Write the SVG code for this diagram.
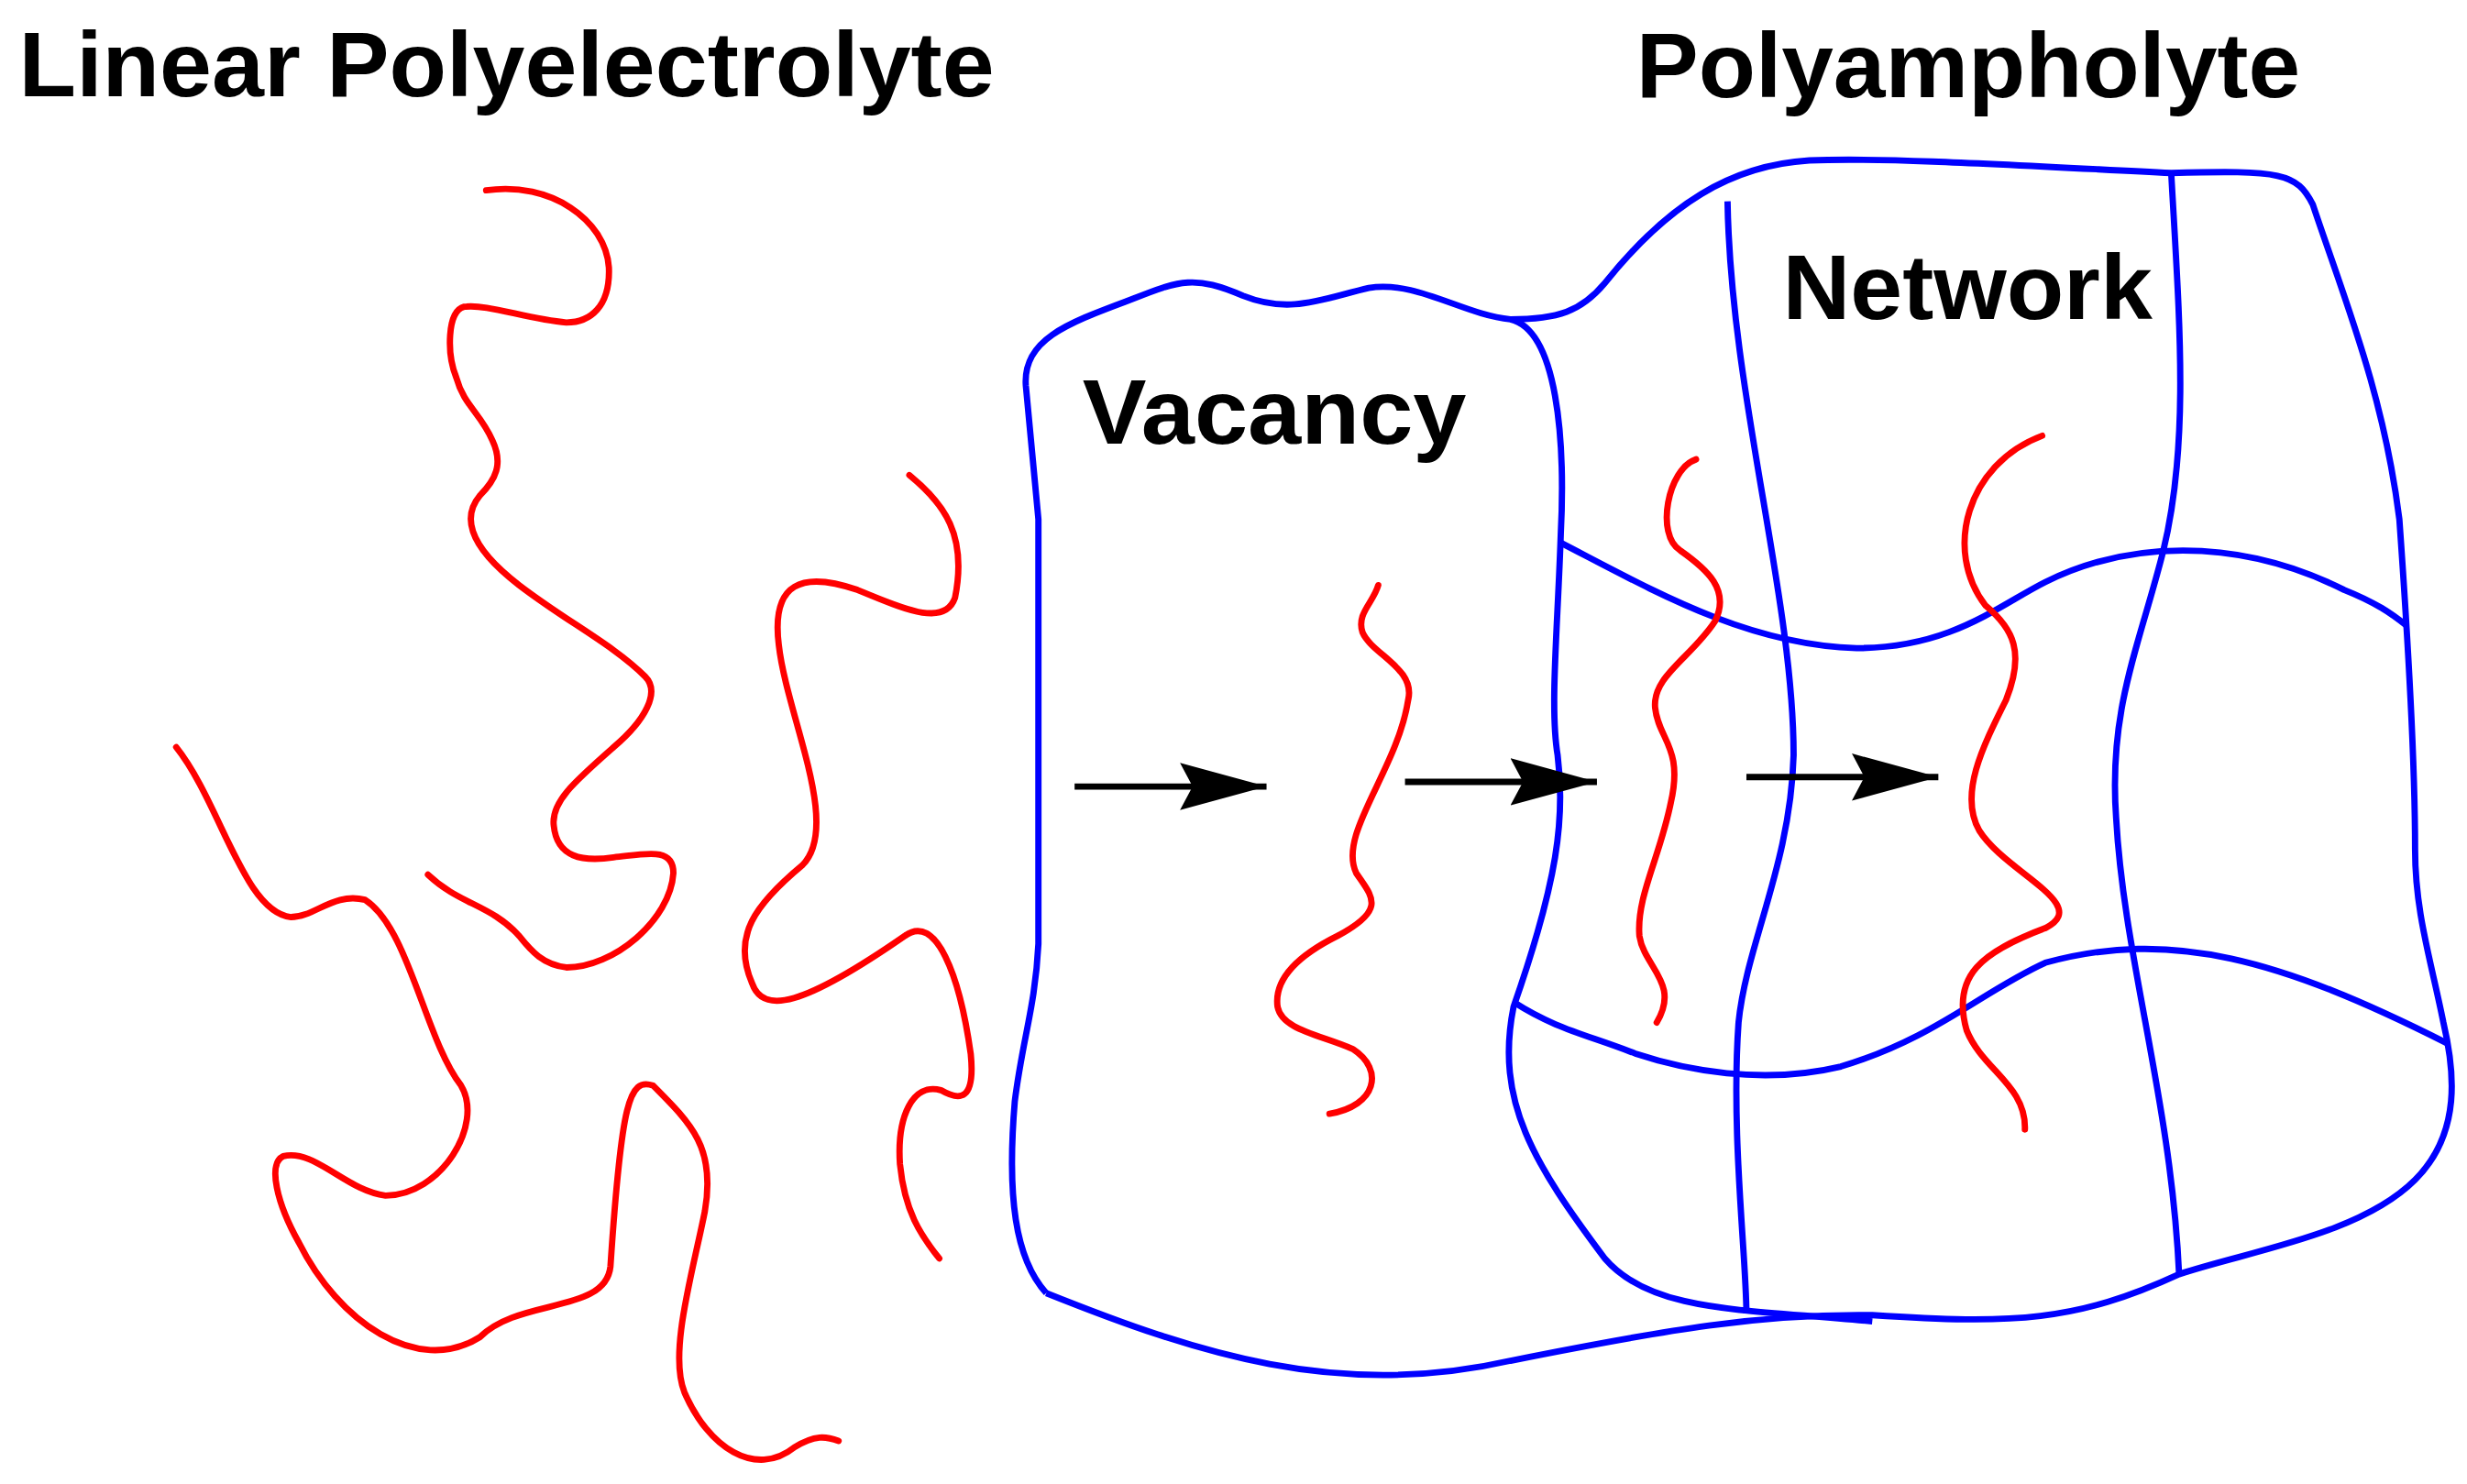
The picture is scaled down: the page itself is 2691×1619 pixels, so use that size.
<svg xmlns="http://www.w3.org/2000/svg" width="2691" height="1619" viewBox="0 0 2691 1619">
<style>
.r{fill:none;stroke:#ff0000;stroke-width:4;stroke-linecap:round}
.b{fill:none;stroke:#0000ff;stroke-width:4}
.a{stroke:#000;stroke-width:4}
.t{font-family:"Liberation Sans",Arial,sans-serif;font-weight:bold;font-size:58px;fill:#000}
</style>
<defs><marker id="ah" markerUnits="userSpaceOnUse" markerWidth="60" markerHeight="34" refX="55" refY="17" orient="auto"><path d="M0,2 L55,17 L0,32 L8,17 Z" fill="#000"/></marker></defs>
<rect width="2691" height="1619" fill="#fff"/>
<g transform="scale(1.7162)">
<g id="titles">
<text class="t" x="12" y="61" textLength="620" lengthAdjust="spacingAndGlyphs">Linear Polyelectrolyte</text>
<text class="t" x="1040" y="62" textLength="422" lengthAdjust="spacingAndGlyphs">Polyampholyte</text>
<text class="t" x="1133" y="203" textLength="235" lengthAdjust="spacingAndGlyphs">Network</text>
<text class="t" x="688" y="282" textLength="244" lengthAdjust="spacingAndGlyphs">Vacancy</text>
</g>
<g id="gel">
<path class="b" d="M665,822 C645,800 640,760 645,700 C650,660 658,640 660,600 L660,330 L652,245 C650,215 680,205 720,190 C750,178 760,175 790,188 C820,200 840,190 870,183 C900,178 930,200 960,203 C990,210 995,280 992,340 C990,400 985,450 990,480 C995,520 990,560 962,640 C950,700 975,740 1020,800 C1050,835 1110,832 1190,840"/>
<path class="b" d="M665,822 C760,860 850,890 960,865 C1060,845 1120,835 1190,836 C1280,842 1320,840 1385,810 C1430,795 1500,785 1535,750 C1565,720 1560,680 1553,650 C1545,610 1535,580 1535,540 C1535,480 1530,400 1525,330 C1515,250 1490,190 1470,130 C1460,110 1450,108 1380,110 C1280,105 1200,100 1150,102 C1100,105 1060,130 1020,180 C1005,198 990,203 960,203"/>
<path class="b" d="M1098,128 C1100,250 1140,380 1140,480 C1138,550 1110,600 1105,650 C1100,720 1110,800 1110,835"/>
<path class="b" d="M1380,110 C1385,200 1392,280 1375,350 C1360,410 1340,450 1345,520 C1350,610 1380,700 1385,810"/>
<path class="b" d="M992,345 C1050,375 1110,410 1180,412 C1240,412 1270,385 1300,370 C1350,345 1420,340 1490,375 C1510,383 1520,390 1530,398"/>
<path class="b" d="M962,637 C990,655 1010,658 1040,670 C1070,680 1120,690 1170,678 C1230,660 1260,630 1300,612 C1380,590 1450,610 1555,663"/>
</g>
<g id="chains">
<path class="r" d="M309,121 C350,115 385,140 387,170 C388,195 375,205 360,205 C335,203 310,193 295,195 C284,198 284,225 290,240 C295,258 305,262 313,280 C320,295 315,305 305,315 C295,327 295,345 330,372 C360,395 390,410 410,430 C420,440 410,458 390,475 C365,497 350,510 352,525 C354,545 370,548 390,545 C410,543 428,538 428,555 C426,585 390,615 360,615 C345,613 338,605 330,595 C312,575 292,575 272,556"/>
<path class="r" d="M112,475 C140,510 155,580 185,583 C200,583 212,567 232,572 C260,590 270,660 293,690 C308,715 280,760 245,760 C220,757 200,730 180,735 C170,740 176,765 190,790 C215,840 265,875 305,850 C330,825 385,835 388,805 C395,700 400,685 415,690 C440,715 455,730 448,770 C440,810 425,860 435,885 C450,920 480,940 505,920 C518,912 525,913 533,916"/>
<path class="r" d="M578,302 C600,320 615,340 607,380 C600,400 570,385 545,375 C510,363 490,370 495,410 C500,455 535,525 510,550 C480,575 465,595 478,625 C485,645 510,640 575,595 C595,580 610,620 617,670 C620,700 610,700 598,693 C580,688 570,710 572,740 C575,770 585,785 597,800"/>
<path class="r" d="M876,372 C873,383 862,390 866,402 C872,416 900,425 895,445 C888,490 850,530 862,555 C872,570 882,578 850,595 C820,610 810,625 812,640 C815,655 840,658 860,667 C880,680 875,703 845,708"/>
<path class="r" d="M1078,292 C1060,298 1052,340 1068,350 C1085,362 1100,375 1090,395 C1075,418 1050,430 1052,450 C1054,470 1070,475 1062,510 C1055,545 1040,570 1042,595 C1045,615 1068,625 1053,650"/>
<path class="r" d="M1298,277 C1250,295 1235,350 1262,385 C1280,400 1287,415 1275,445 C1260,475 1245,505 1258,528 C1275,555 1330,575 1300,590 C1260,605 1240,620 1250,655 C1260,680 1288,690 1287,718"/>
</g>
<g id="connectors">
<line class="a" x1="683" y1="500" x2="805" y2="500" marker-end="url(#ah)"/>
<line class="a" x1="893" y1="497" x2="1015" y2="497" marker-end="url(#ah)"/>
<line class="a" x1="1110" y1="494" x2="1232" y2="494" marker-end="url(#ah)"/>
</g>
</g>
</svg>
